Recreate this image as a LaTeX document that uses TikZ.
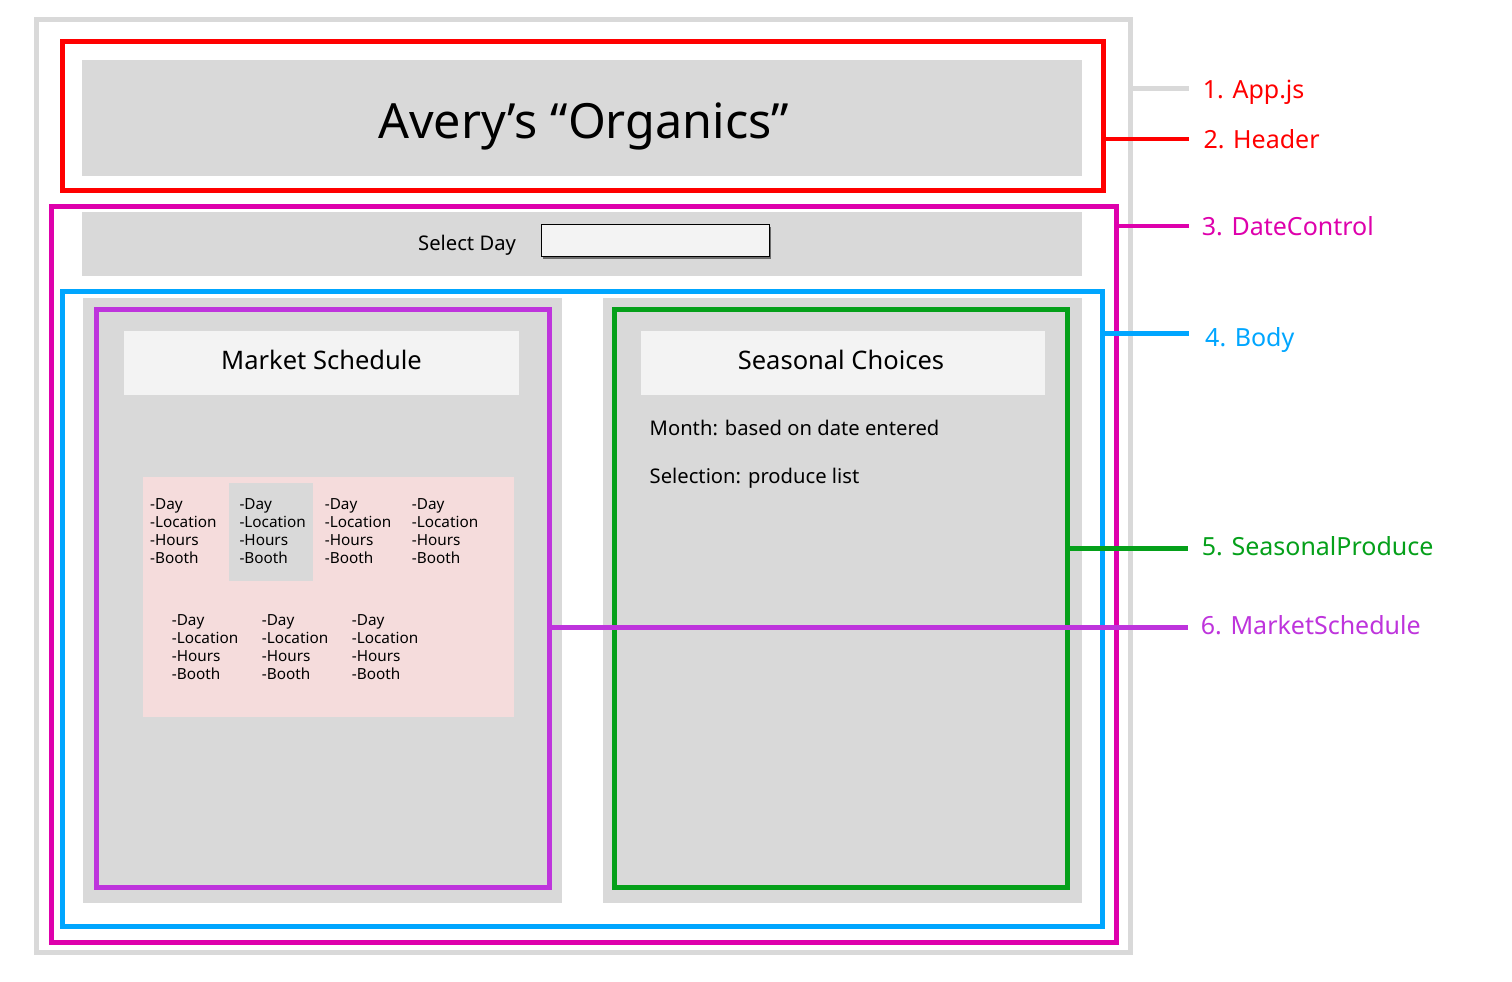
\documentclass[tikz,border=0pt]{standalone}
\usepackage{fontspec}
\setmainfont{Noto Sans}
\usetikzlibrary{shadows,fit}
\definecolor{appgray}{HTML}{D9D9D9}
\definecolor{hdrred}{HTML}{FF0000}
\definecolor{dcmag}{HTML}{DE00AC}
\definecolor{bodyblue}{HTML}{00A6FF}
\definecolor{spgreen}{HTML}{05A01A}
\definecolor{mspurple}{HTML}{BE34DC}
\definecolor{lightbox}{HTML}{F3F3F3}
\definecolor{pinkbox}{HTML}{F5DCDC}
\tikzset{
  frame/.style={draw, line width=5pt, rectangle, inner sep=0pt, outer sep=0pt},
  fillbox/.style={rectangle, inner sep=0pt, outer sep=0pt, draw=none},
  conn/.style={line width=4.5pt},
  lbl/.style={inner sep=0pt, anchor=base west, font=\fontsize{25}{30}\selectfont},
  boxtitle/.style={inner sep=0pt, anchor=base, font=\fontsize{25.5}{30}\selectfont},
  bodytext/.style={inner sep=0pt, anchor=base west, font=\fontsize{20.2}{24}\selectfont},
  itemtext/.style={inner sep=0pt, anchor=base west, font=\fontsize{15.3}{18}\selectfont},
}
\begin{document}
\begin{tikzpicture}[x=1pt,y=-1pt]
\useasboundingbox (0,0) rectangle (1512,982);
\fill[white] (0,0) rectangle (1512,982);
% App frame
\node[frame, draw=appgray, fit={(36,19.5) (1130.2,952)}] (app) {};
% Header
\node[fillbox, fill=appgray, fit={(82,60) (1082,176)}] (hdrfill) {};
\node[frame, draw=hdrred, fit={(62.5,41.7) (1103,190.5)}] (header) {};
\node[inner sep=0pt, anchor=base, font=\fontsize{48.5}{58}\selectfont] (title) at (583.5,138.5) {Avery’s “Organics”};
% DateControl
\node[frame, draw=dcmag, fit={(51.5,206) (1116.5,942.5)}] (datectl) {};
\node[fillbox, fill=appgray, fit={(82,212) (1082,276)}] (datebar) {};
\node[bodytext] (selday) at (418,250) {Select Day};
\node[fillbox, draw=black, line width=0.8pt, fill=lightbox,
      drop shadow={shadow xshift=1.5pt, shadow yshift=-2.5pt, opacity=0.5, fill=black},
      fit={(541.7,224.3) (769,256)}] (dayinput) {};
% Body
\node[frame, draw=bodyblue, fit={(62.5,291.5) (1102.5,926.5)}] (body) {};
\node[fillbox, fill=appgray, fit={(82.7,297.7) (561.7,902.7)}] (leftpanel) {};
\node[fillbox, fill=appgray, fit={(602.7,297.7) (1082,902.7)}] (rightpanel) {};
% Market schedule
\node[frame, draw=mspurple, fit={(96.7,309.3) (549.3,887.5)}] (msframe) {};
\node[fillbox, fill=lightbox, fit={(124,330.7) (519,395)}] (mstitlebox) {};
\node[boxtitle] (mstitle) at (321.5,369) {Market Schedule};
\node[fillbox, fill=pinkbox, fit={(142.7,476.7) (514,716.7)}] (pink) {};
\node[fillbox, fill=appgray, fit={(229,482.7) (313,580.7)}] (hilite) {};
\foreach \cx/\cy [count=\k] in {150/509.3, 239.3/509.3, 324.7/509.3, 411.7/509.3, 171.7/625, 261.7/625, 351.7/625} {
  \foreach \t [count=\j] in {-Day,-Location,-Hours,-Booth} {
    \node[itemtext] (item\k-\j) at (\cx, {\cy + 18*(\j-1)}) {\t};
  }
}
% Seasonal produce
\node[frame, draw=spgreen, fit={(614.5,309.3) (1067.5,887.5)}] (spframe) {};
\node[fillbox, fill=lightbox, fit={(641,330.7) (1045,395)}] (sptitlebox) {};
\node[boxtitle] (sptitle) at (841,369) {Seasonal Choices};
\node[bodytext] (month) at (649.5,435.7) {Month: based on date entered};
\node[bodytext] (selection) at (649.5,483.3) {Selection: produce list};
% Labels
\node[lbl, text=hdrred] (lblapp) at (1202.7,98.3) {1. App.js};
\node[lbl, text=hdrred] (lblheader) at (1203.3,148.7) {2. Header};
\node[lbl, text=dcmag] (lbldate) at (1201.7,235.7) {3. DateControl};
\node[lbl, text=bodyblue] (lblbody) at (1205,346) {4. Body};
\node[lbl, text=spgreen] (lblsp) at (1201.7,555) {5. SeasonalProduce};
\node[lbl, text=mspurple] (lblms) at (1200.7,634) {6. MarketSchedule};
\coordinate (appEnd) at (1189,88.3);
\coordinate (hdrEnd) at (1189,139);
\coordinate (dateEnd) at (1189,226);
\coordinate (bodyEnd) at (1189,333.3);
\coordinate (spEnd) at (1188.3,548.3);
\coordinate (msEnd) at (1188.3,627.3);
\draw[conn, appgray] (app.east |- appEnd) -- (appEnd);
\draw[conn, hdrred] (header.east |- hdrEnd) -- (hdrEnd);
\draw[conn, dcmag] (datectl.east |- dateEnd) -- (dateEnd);
\draw[conn, bodyblue] (body.east |- bodyEnd) -- (bodyEnd);
\draw[conn, spgreen] (spframe.east |- spEnd) -- (spEnd);
\draw[conn, mspurple] (msframe.east |- msEnd) -- (msEnd);
\end{tikzpicture}
\end{document}
